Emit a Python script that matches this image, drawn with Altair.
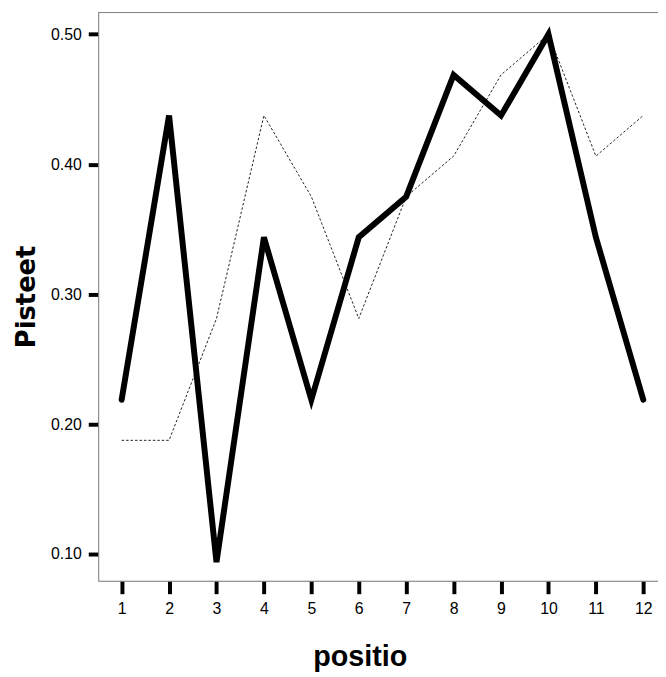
import altair as alt
import pandas as pd

positions = list(range(1, 13))
series_thick = [0.21875, 0.4375, 0.09375, 0.34375, 0.21875, 0.34375,
                0.375, 0.46875, 0.4375, 0.5, 0.34375, 0.21875]
series_dotted = [0.1875, 0.1875, 0.28125, 0.4375, 0.375, 0.28125,
                 0.375, 0.40625, 0.46875, 0.5, 0.40625, 0.4375]
y_ticks = [0.1, 0.2, 0.3, 0.4, 0.5]

df = pd.DataFrame({
    "positio": positions * 2,
    "Pisteet": series_thick + series_dotted,
    "sarja": ["A"] * 12 + ["B"] * 12,
})

W, H = 565, 574
FONT = "Liberation Sans"
GREY = "#808080"

x_scale = alt.Scale(domain=[0.505, 12.31], nice=False, zero=False)
y_scale = alt.Scale(domain=[0.0794, 0.5171], nice=False, zero=False)

x_axis = alt.Axis(values=positions, format="d", title="positio",
                  grid=False, domainColor=GREY, domainWidth=1,
                  tickColor="black", tickWidth=4, tickSize=13,
                  labelFont=FONT, labelFontSize=16, labelColor="black",
                  labelPadding=7, labelFlush=False, labelOverlap=False,
                  titleFont=FONT, titleFontSize=29, titleFontWeight="bold",
                  titleColor="black", titleX=264, titleY=85,
                  titleAlign="center", titleBaseline="alphabetic")
y_axis = alt.Axis(values=y_ticks, format=".2f", title="Pisteet",
                  grid=False, domainColor=GREY, domainWidth=1,
                  tickColor="black", tickWidth=4, tickSize=10,
                  labelFont=FONT, labelFontSize=16, labelColor="black",
                  labelPadding=7, labelFlush=False,
                  titleFont="DejaVu Sans", titleFontSize=26, titleFontWeight="bold",
                  titleColor="black", titleX=-64, titleY=287,
                  titleAngle=270, titleAlign="center", titleBaseline="alphabetic")

base = alt.Chart(df)

dotted = base.transform_filter(alt.datum.sarja == "B").mark_line(
    color="#222222", strokeWidth=1, strokeDash=[2.5, 2]
).encode(
    x=alt.X("positio:Q", scale=x_scale, axis=x_axis),
    y=alt.Y("Pisteet:Q", scale=y_scale, axis=y_axis),
)

thick = base.transform_filter(alt.datum.sarja == "A").mark_line(
    color="black", strokeWidth=6, strokeCap="round", strokeJoin="miter"
).encode(
    x=alt.X("positio:Q", scale=x_scale),
    y=alt.Y("Pisteet:Q", scale=y_scale),
)

top_border = alt.Chart(alt.Data(values=[{}])).mark_rule(
    color=GREY, strokeWidth=1
).encode(x=alt.value(0), x2=alt.value(W), y=alt.value(0.5))

chart = alt.layer(dotted, thick, top_border).properties(
    width=W, height=H,
    autosize=alt.AutoSizeParams(type="none"),
    padding={"left": 91, "top": 1, "right": 0, "bottom": 94},
).configure_view(stroke=None).configure(background="white")

chart.save("out.html", embed_options={"renderer": "svg", "actions": False})
